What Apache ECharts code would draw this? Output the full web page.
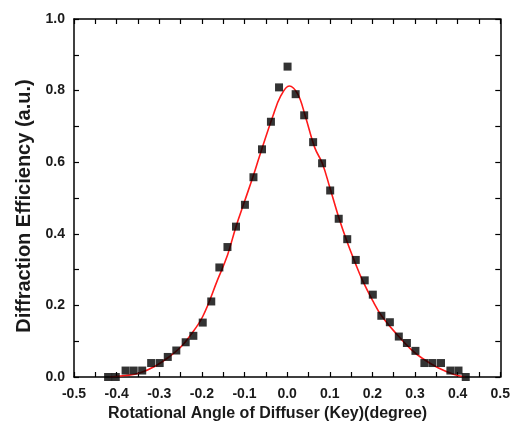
<!DOCTYPE html>
<html>
<head>
<meta charset="utf-8">
<script src="https://cdn.jsdelivr.net/npm/echarts@6/dist/echarts.min.js"></script>
<style>
html,body{margin:0;padding:0;background:#fff;}
#c{width:513px;height:435px;}
</style>
</head>
<body>
<div id="c"></div>
<script>
// measured points (angle, efficiency)
const dataX = [-0.420,-0.402,-0.379,-0.360,-0.340,-0.319,-0.299,-0.280,-0.260,-0.238,-0.220,-0.198,-0.178,
  -0.159,-0.140,-0.120,-0.099,-0.079,-0.059,-0.038,-0.019,0.001,0.020,0.040,0.061,0.082,
  0.101,0.121,0.141,0.161,0.182,0.201,0.221,0.241,0.262,0.281,0.301,0.322,0.341,0.361,0.383,0.402,0.419];
const dataY = [0.000,0.000,0.018,0.018,0.018,0.039,0.039,0.056,0.074,0.097,0.115,0.152,0.211,
  0.306,0.363,0.420,0.481,0.558,0.636,0.713,0.809,0.867,0.790,0.731,0.656,0.597,
  0.521,0.442,0.385,0.327,0.270,0.230,0.171,0.153,0.113,0.095,0.073,0.039,0.039,0.039,0.018,0.018,0.000];
// fitted curve
const fitX = [-0.416,-0.38,-0.346,-0.31,-0.276,-0.25,-0.229,-0.198,-0.163,-0.14,-0.12,-0.10,-0.08,-0.065,-0.034,-0.015,0.005,
  0.025,0.043,0.065,0.0825,0.10,0.12,0.14,0.16,0.176,0.20,0.2227,0.262,0.29,0.316,0.355,0.39,0.4175];
const fitY = [0.000,0.004,0.011,0.030,0.057,0.083,0.113,0.169,0.272,0.340,0.420,0.490,0.560,0.616,0.727,0.785,0.813,
  0.790,0.727,0.640,0.597,0.530,0.450,0.380,0.318,0.272,0.215,0.169,0.113,0.078,0.053,0.025,0.008,0.000];
const xTicks = {min:-0.5, max:0.5, step:0.1};
const yTicks = {min:0, max:1, step:0.2};

const fmt = v => (Math.abs(v) < 1e-9 ? 0 : v).toFixed(1);
const font = '"Liberation Sans", Arial, sans-serif';
const lineStyle = {color:'#000', width:1.5};
const tickBase = {show:true, inside:true, length:5, lineStyle:{color:'#000', width:1.2}};
const minor = {show:true, splitNumber:2, length:5, lineStyle:{color:'#000', width:1.2}};

const chart = echarts.init(document.getElementById('c'));
chart.setOption({
  animation:false,
  backgroundColor:'#fff',
  grid:{left:74, right:11, top:19, bottom:58, containLabel:false},
  xAxis:[{
    type:'value', min:xTicks.min, max:xTicks.max, interval:xTicks.step, position:'bottom',
    axisLine:{show:true, onZero:false, lineStyle},
    axisTick:tickBase, minorTick:minor, splitLine:{show:false},
    axisLabel:{formatter:fmt, color:'#1a1a1a', fontFamily:font, fontWeight:'bold', fontSize:14, margin:10},
    name:'Rotational Angle of Diffuser (Key)(degree)', nameLocation:'middle', nameGap:26,
    nameTextStyle:{color:'#1a1a1a', fontFamily:font, fontWeight:'bold', fontSize:16, padding:[0,39,0,0], verticalAlign:'top'}
  },{
    type:'value', min:xTicks.min, max:xTicks.max, interval:xTicks.step, position:'top',
    axisLine:{show:true, onZero:false, lineStyle},
    axisTick:tickBase, minorTick:minor, splitLine:{show:false}, axisLabel:{show:false}
  }],
  yAxis:[{
    type:'value', min:yTicks.min, max:yTicks.max, interval:yTicks.step, position:'left',
    axisLine:{show:true, onZero:false, lineStyle},
    axisTick:tickBase, minorTick:minor, splitLine:{show:false},
    axisLabel:{formatter:fmt, color:'#1a1a1a', fontFamily:font, fontWeight:'bold', fontSize:14, margin:9},
    name:'Diffraction Efficiency (a.u.)', nameLocation:'middle', nameGap:40, nameRotate:90,
    nameTextStyle:{color:'#1a1a1a', fontFamily:font, fontWeight:'bold', fontSize:20, padding:[0,16,0,0]}
  },{
    type:'value', min:yTicks.min, max:yTicks.max, interval:yTicks.step, position:'right',
    axisLine:{show:true, onZero:false, lineStyle},
    axisTick:tickBase, minorTick:minor, splitLine:{show:false}, axisLabel:{show:false}
  }],
  series:[{
    type:'line', xAxisIndex:0, yAxisIndex:0,
    data: fitX.map((x,i)=>[x, fitY[i]]),
    smooth:0.4, showSymbol:false, symbol:'none',
    lineStyle:{color:'#ff1a1a', width:1.6}, z:3
  },{
    type:'scatter', xAxisIndex:0, yAxisIndex:0,
    data: dataX.map((x,i)=>[x, dataY[i]]),
    symbol:'rect', symbolSize:8,
    itemStyle:{color:'#000'}, z:4
  }]
});
</script>
</body>
</html>
